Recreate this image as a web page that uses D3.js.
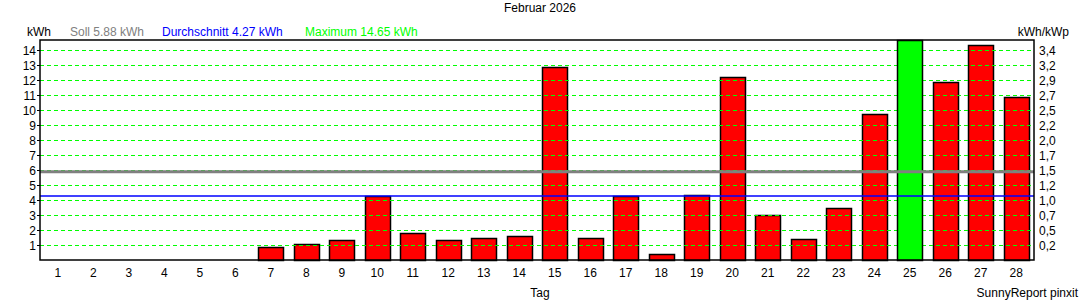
<!DOCTYPE html>
<html>
<head>
<meta charset="utf-8">
<script src="https://cdn.jsdelivr.net/npm/d3@7"></script>
<style>
  body { margin: 0; background: #fff; }
  text { font-family: "Liberation Sans", Arial, sans-serif; font-size: 12px; }
</style>
</head>
<body>
<script>
var w = 1080;
var h = 300;

// daily yield in kWh, Februar 2026
var days = d3.range(1, 29);
var yieldKwh = [0, 0, 0, 0, 0, 0, 0.87, 1.07, 1.33, 4.24, 1.82, 1.33, 1.47, 1.6,
                12.87, 1.47, 4.24, 0.4, 4.33, 12.2, 3.0, 1.4, 3.47, 9.73,
                14.65, 11.87, 14.33, 10.87];
var soll = 5.88;
var avg = 4.27;
var maxVal = 14.65;
var leftTicks = [1, 2, 3, 4, 5, 6, 7, 8, 9, 10, 11, 12, 13, 14];
var rightLabels = ["0,2", "0,5", "0,7", "1,0", "1,2", "1,5", "1,7", "2,0", "2,2",
                   "2,5", "2,7", "2,9", "3,2", "3,4"];

var pLeft = 40, pRight = 1034, pTop = 40, pBottom = 260;

var xScale = d3.scaleBand()
  .domain(days)
  .range([pLeft, pRight])
  .paddingInner(0.3)
  .paddingOuter(0.15);

var yScale = d3.scaleLinear()
  .domain([0, maxVal])
  .range([pBottom, pTop]);

var svg = d3.select("body").append("svg")
  .attr("width", w)
  .attr("height", h);

var barData = yieldKwh.map(function(d, i) { return {day: days[i], v: d}; })
  .filter(function(d) { return d.v > 0; });

function drawBars(data) {
  svg.selectAll(null)
    .data(data)
    .enter()
    .append("rect")
    .attr("x", function(d) { return Math.round(xScale(d.day)) + 0.5; })
    .attr("y", function(d) { return Math.round(yScale(d.v)) + 0.5; })
    .attr("width", Math.round(xScale.bandwidth()))
    .attr("height", function(d) { return Math.round(pBottom - yScale(d.v)); })
    .attr("fill", function(d) { return d.v === maxVal ? "#00ff00" : "#ff0000"; })
    .attr("stroke", "#000")
    .attr("stroke-width", 1.5);
}

// red bars (grid shows through them)
drawBars(barData.filter(function(d) { return d.v !== maxVal; }));

// grid lines
svg.selectAll("line.grid")
  .data(leftTicks)
  .enter()
  .append("line")
  .attr("class", "grid")
  .attr("x1", pLeft).attr("x2", pRight)
  .attr("y1", function(d) { return Math.round(yScale(d)) + 0.5; })
  .attr("y2", function(d) { return Math.round(yScale(d)) + 0.5; })
  .attr("stroke", "#00ff00")
  .attr("stroke-dasharray", "4,3");

// maximum bar on top of the grid
drawBars(barData.filter(function(d) { return d.v === maxVal; }));

// soll + average
svg.append("line")
  .attr("x1", pLeft).attr("x2", pRight)
  .attr("y1", yScale(soll)).attr("y2", yScale(soll))
  .attr("stroke", "#808080").attr("stroke-width", 3);
svg.append("line")
  .attr("x1", pLeft).attr("x2", pRight)
  .attr("y1", yScale(avg)).attr("y2", yScale(avg))
  .attr("stroke", "#0000ff").attr("stroke-width", 1.5);

// frame
svg.append("rect")
  .attr("x", pLeft).attr("y", pTop)
  .attr("width", pRight - pLeft).attr("height", pBottom - pTop)
  .attr("fill", "none").attr("stroke", "#000").attr("stroke-width", 1.5);

// left axis labels
svg.selectAll("text.yl")
  .data(leftTicks)
  .enter()
  .append("text")
  .attr("x", 36)
  .attr("y", function(d) { return yScale(d) + 5; })
  .attr("text-anchor", "end")
  .text(function(d) { return d; });

svg.selectAll("line.tick")
  .data(leftTicks)
  .enter()
  .append("line")
  .attr("x1", pLeft - 3).attr("x2", pLeft)
  .attr("y1", function(d) { return Math.round(yScale(d)) + 0.5; })
  .attr("y2", function(d) { return Math.round(yScale(d)) + 0.5; })
  .attr("stroke", "#000");

// right axis labels
svg.selectAll("text.yr")
  .data(rightLabels)
  .enter()
  .append("text")
  .attr("x", 1039)
  .attr("y", function(d, i) { return yScale(leftTicks[i]) + 5; })
  .text(function(d) { return d; });

// x labels
svg.selectAll("text.xl")
  .data(days)
  .enter()
  .append("text")
  .attr("x", function(d) { return xScale(d) + xScale.bandwidth() / 2; })
  .attr("y", 277)
  .attr("text-anchor", "middle")
  .text(function(d) { return d; });

// titles
svg.append("text").attr("x", 540).attr("y", 12).attr("text-anchor", "middle").text("Februar 2026");
svg.append("text").attr("x", 27).attr("y", 36).text("kWh");
svg.append("text").attr("x", 70).attr("y", 36).attr("fill", "#808080").text("Soll 5.88 kWh");
svg.append("text").attr("x", 162).attr("y", 36).attr("fill", "#0000ff").text("Durchschnitt 4.27 kWh");
svg.append("text").attr("x", 305).attr("y", 36).attr("fill", "#00ff00").text("Maximum 14.65 kWh");
svg.append("text").attr("x", 1069).attr("y", 36).attr("text-anchor", "end").text("kWh/kWp");
svg.append("text").attr("x", 540).attr("y", 297).attr("text-anchor", "middle").text("Tag");
svg.append("text").attr("x", 1078).attr("y", 297).attr("text-anchor", "end").text("SunnyReport pinxit");
</script>
</body>
</html>
